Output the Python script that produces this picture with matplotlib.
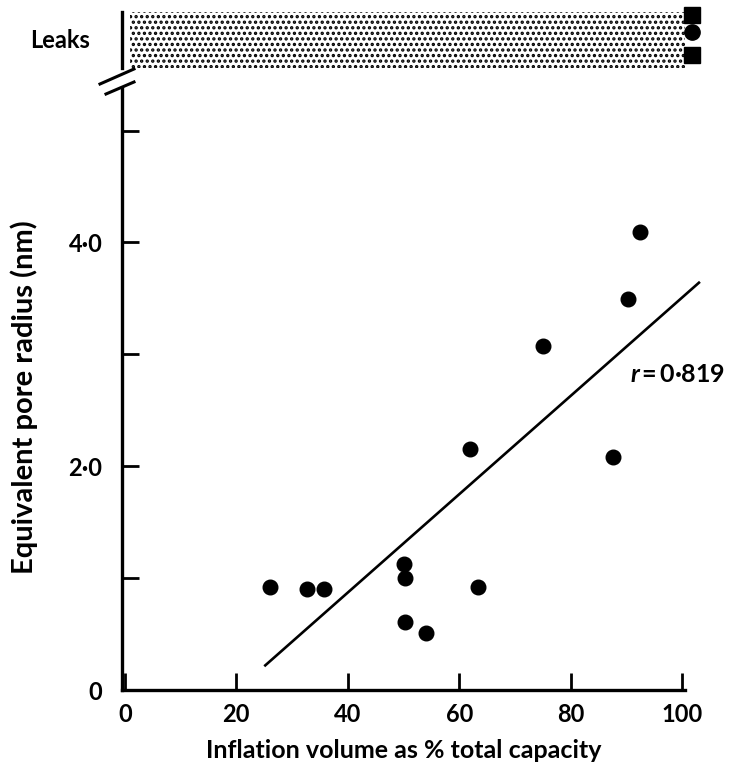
import numpy as np
import matplotlib.pyplot as plt
from matplotlib.patches import Rectangle
from matplotlib.lines import Line2D

# dados
volume_pct = [26.1, 32.7, 35.8, 50.1, 50.2, 50.3, 54.1, 63.3, 61.9, 75.1, 87.5, 90.2, 92.4]
raio_nm = [0.92, 0.90, 0.90, 1.13, 1.00, 0.61, 0.51, 0.92, 2.15, 3.07, 2.08, 3.49, 4.09]

# reta de regressao (extremos lidos)
reta_x = [25.2, 103.0]
reta_y = [0.22, 3.64]

# pontos "Leaks" (fora da escala)
leaks_x = [101.8, 101.8, 101.8]
leaks_y = [0.95, 0.64, 0.23]
leaks_marker = ['s', 'o', 's']

x_ticks = [0, 20, 40, 60, 80, 100]
x_labels = ['0', '20', '40', '60', '80', '100']
y_ticks = [0, 1, 2, 3, 4, 5]
y_labels = ['0', '', '2\u00b70', '', '4\u00b70', '']

plt.rcParams['font.family'] = ['Lato', 'DejaVu Sans']
plt.rcParams['font.weight'] = 'bold'
plt.rcParams['axes.labelweight'] = 'bold'
plt.rcParams['mathtext.fontset'] = 'custom'
plt.rcParams['mathtext.it'] = 'Lato:italic:bold'
plt.rcParams['hatch.linewidth'] = 1.6

W, H = 734, 773
fig = plt.figure(figsize=(W / 100, H / 100), dpi=100)

def px_box(x0, y0, x1, y1):
    return [x0 / W, 1 - y1 / H, (x1 - x0) / W, (y1 - y0) / H]

ax = fig.add_axes(px_box(122, 88, 685, 690))
ax_top = fig.add_axes(px_box(122, 12, 685, 68))

xlim = (-0.5, 100.5)

# --- painel principal
ax.plot(volume_pct, raio_nm, 'o', color='black', markersize=10.5)
ax.plot(reta_x, reta_y, color='black', lw=1.9, clip_on=False)
ax.text(90.6, 2.82, r'$\mathit{r}$' + '\u2009=\u20090\u00b7819', fontsize=18, va='center', ha='left',
        fontweight='bold')

ax.set_xlim(*xlim)
ax.set_ylim(0, 5.38)
ax.set_xticks(x_ticks)
ax.set_xticklabels(x_labels)
ax.set_yticks(y_ticks)
ax.set_yticklabels(y_labels)
ax.tick_params(direction='in', length=12, width=2, labelsize=17, pad=9)
ax.tick_params(axis='y', pad=14)
for s in ['top', 'right']:
    ax.spines[s].set_visible(False)
for s in ['left', 'bottom']:
    ax.spines[s].set_linewidth(2.4)

ax.set_xlabel('Inflation volume as % total capacity', fontsize=18, labelpad=10)
ax.set_ylabel('Equivalent pore radius (nm)', fontsize=21, va='center')
ax.yaxis.set_label_coords(-0.174, 0.487)

# --- painel "Leaks"
ax_top.set_xlim(*xlim)
ax_top.set_ylim(0, 1)
ax_top.add_patch(Rectangle((1, 0), 99.5, 1, facecolor='none', edgecolor='black',
                           hatch='...', lw=0))
for lx, ly, mk in zip(leaks_x, leaks_y, leaks_marker):
    ax_top.plot(lx, ly, mk, color='black', markersize=11, clip_on=False)
for s in ['top', 'right', 'bottom']:
    ax_top.spines[s].set_visible(False)
ax_top.spines['left'].set_linewidth(2.4)
ax_top.set_xticks([])
ax_top.set_yticks([])
ax_top.text(-0.11, 0.5, 'Leaks', transform=ax_top.transAxes, fontsize=17,
            ha='center', va='center')

# quebra do eixo
for (x0, y0, x1, y1) in [(100, 84, 134, 69), (106, 94, 134, 82)]:
    fig.add_artist(Line2D([x0 / W, x1 / W], [1 - y0 / H, 1 - y1 / H],
                          color='black', lw=2.2))

fig.savefig('out.png', dpi=100)
